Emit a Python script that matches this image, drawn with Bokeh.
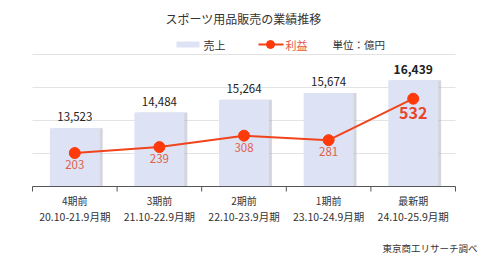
from bokeh.plotting import figure
from bokeh.models import Range1d, ColumnDataSource
from bokeh.core.properties import value
from bokeh.embed import file_html
from bokeh.resources import INLINE

periods = ["4期前", "3期前", "2期前", "1期前", "最新期"]
spans = ["20.10-21.9月期", "21.10-22.9月期", "22.10-23.9月期", "23.10-24.9月期", "24.10-25.9月期"]
sales = [13523, 14484, 15264, 15674, 16439]
profit = [203, 239, 308, 281, 532]
sales_ticks = [10000, 12000, 14000, 16000, 18000]

FONT = "Noto Sans CJK JP"
W, H = 500, 267
# plot-area placement in pixels
L, R, T, B = 32, 455, 54, 186
n = len(periods)
xs = [i + 0.5 for i in range(n)]

kx = (R - L) / n
ks = (B - T) / (sales_ticks[-1] - sales_ticks[0])
kp = (B - T) / 800.0

p = figure(width=W, height=H, output_backend="svg", toolbar_location=None,
           x_range=Range1d(-L / kx, n + (W - R) / kx),
           y_range=Range1d(sales_ticks[0] - (H - B) / ks, sales_ticks[-1] + T / ks),
           min_border=0)
p.extra_y_ranges = {"profit": Range1d(-(H - B) / kp, 800 + T / kp),
                    "px": Range1d(H, 0)}
p.extra_x_ranges = {"px": Range1d(0, W)}
p.axis.visible = False
p.grid.visible = False
p.outline_line_color = None

# gridlines
p.segment(x0=[0] * 4, x1=[n] * 4, y0=sales_ticks[1:], y1=sales_ticks[1:],
          line_color="#e3e3e3", line_width=1)

src = ColumnDataSource(dict(x=xs, xs=[v + 0.035 for v in xs], sales=sales, profit=profit))

# bar shadow and bars
p.vbar(x="xs", top="sales", bottom=sales_ticks[0], width=0.59, source=src,
       fill_color="#a9adb8", fill_alpha=0.5, line_color=None)
p.vbar(x="x", top="sales", bottom=sales_ticks[0], width=0.59, source=src,
       fill_color="#dde3f5", line_color=None)

# axis line and ticks
p.segment(x0=[0], x1=[n], y0=[sales_ticks[0]], y1=[sales_ticks[0]], line_color="#555555", line_width=1)
p.segment(x0=list(range(n + 1)), x1=list(range(n + 1)), y0=[B] * (n + 1), y1=[B + 5] * (n + 1),
          y_range_name="px", line_color="#555555", line_width=1)

# category labels
p.text(x=xs, y=[200] * n, text=periods, y_range_name="px", text_align="center",
       text_baseline="middle", text_font=value(FONT), text_font_size="10px", text_color="#333333")
p.text(x=xs, y=[216] * n, text=spans, y_range_name="px", text_align="center",
       text_baseline="middle", text_font=value(FONT), text_font_size="10.5px", text_color="#333333")

# bar labels
p.text(x=xs[:-1], y=sales[:-1], text=[f"{v:,}" for v in sales[:-1]], text_align="center",
       text_baseline="bottom", y_offset=-7, text_font=value(FONT), text_font_size="11.5px",
       text_color="#222222")
p.text(x=xs[-1:], y=sales[-1:], text=[f"{sales[-1]:,}"], text_align="center",
       text_baseline="bottom", y_offset=-6, text_font=value(FONT), text_font_size="12px",
       text_font_style="bold", text_color="#222222")

# profit line
p.line(x="x", y="profit", source=src, y_range_name="profit", line_color="#f0441c", line_width=2)
p.scatter(x="x", y="profit", source=src, y_range_name="profit", size=11,
          fill_color="#ff3a0a", line_color="#ff3a0a")
p.text(x=xs[:-1], y=profit[:-1], text=[str(v) for v in profit[:-1]], y_range_name="profit",
       text_align="center", text_baseline="top", y_offset=7, text_font=value(FONT),
       text_font_size="11.5px", text_color="#e0604a")
p.text(x=xs[-1:], y=profit[-1:], text=[str(profit[-1])], y_range_name="profit",
       text_align="center", text_baseline="top", y_offset=8, text_font=value(FONT),
       text_font_size="16px", text_font_style="bold", text_color="#e8452a")

# title, legend, note (pixel space)
def ptext(x, y, t, size="11px", color="#333333", align="left", style="normal"):
    p.text(x=[x], y=[y], text=[t], x_range_name="px", y_range_name="px", text_align=align,
           text_baseline="middle", text_font=value(FONT), text_font_size=size,
           text_color=color, text_font_style=style)

ptext(165, 18, "スポーツ用品販売の業績推移", size="12px")
p.quad(left=[176], right=[199], top=[41], bottom=[47], x_range_name="px", y_range_name="px",
       fill_color="#dde3f5", line_color=None)
ptext(203, 44, "売上")
p.segment(x0=[258], x1=[283], y0=[44], y1=[44], x_range_name="px", y_range_name="px",
          line_color="#f0441c", line_width=2)
p.scatter(x=[270], y=[44], x_range_name="px", y_range_name="px", size=8,
          fill_color="#ff3a0a", line_color="#ff3a0a")
ptext(285, 44, "利益", color="#e8553a")
ptext(332, 44, "単位：億円", size="10.5px")
ptext(477, 247, "東京商工リサーチ調べ", size="9.5px", align="right")

open("out.html", "w").write(file_html(p, INLINE))
